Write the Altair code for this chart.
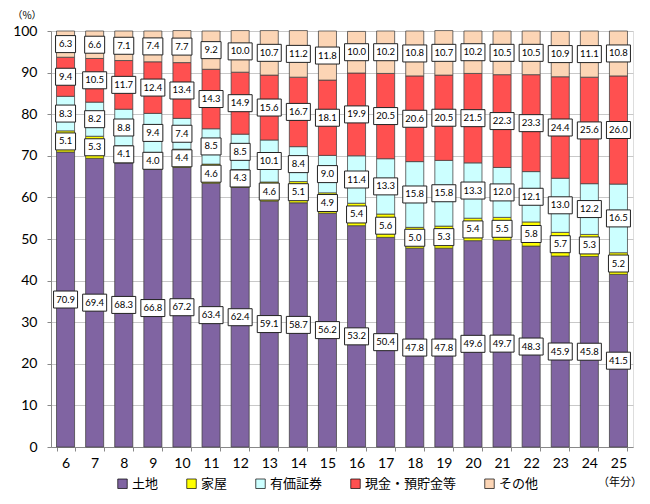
import altair as alt
import pandas as pd

years = ["6", "7", "8", "9", "10", "11", "12", "13", "14", "15",
         "16", "17", "18", "19", "20", "21", "22", "23", "24", "25"]
land = [70.9, 69.4, 68.3, 66.8, 67.2, 63.4, 62.4, 59.1, 58.7, 56.2,
        53.2, 50.4, 47.8, 47.8, 49.6, 49.7, 48.3, 45.9, 45.8, 41.5]
house = [5.1, 5.3, 4.1, 4.0, 4.4, 4.6, 4.3, 4.6, 5.1, 4.9,
         5.4, 5.6, 5.0, 5.3, 5.4, 5.5, 5.8, 5.7, 5.3, 5.2]
securities = [8.3, 8.2, 8.8, 9.4, 7.4, 8.5, 8.5, 10.1, 8.4, 9.0,
              11.4, 13.3, 15.8, 15.8, 13.3, 12.0, 12.1, 13.0, 12.2, 16.5]
cash = [9.4, 10.5, 11.7, 12.4, 13.4, 14.3, 14.9, 15.6, 16.7, 18.1,
        19.9, 20.5, 20.6, 20.5, 21.5, 22.3, 23.3, 24.4, 25.6, 26.0]
other = [6.3, 6.6, 7.1, 7.4, 7.7, 9.2, 10.0, 10.7, 11.2, 11.8,
         10.0, 10.2, 10.8, 10.7, 10.2, 10.5, 10.5, 10.9, 11.1, 10.8]

categories = ["土地", "家屋", "有価証券", "現金・預貯金等", "その他"]
colors = ["#8064A2", "#FFFF00", "#CCFFFF", "#FF5050", "#FCD5B5"]
series = [land, house, securities, cash, other]

rows = []
for ci, (cat, vals) in enumerate(zip(categories, series)):
    for y, v in zip(years, vals):
        rows.append({"year": y, "cat": cat, "order": ci, "value": v,
                     "label": f"{v:.1f}"})
df = pd.DataFrame(rows)

box_short = "M-2,-1.7L2,-1.7L2,1.7L-2,1.7Z"
box_long = "M-2.4,-1.7L2.4,-1.7L2.4,1.7L-2.4,1.7Z"

base = alt.Chart(df).transform_stack(
    stack="value", groupby=["year"], as_=["lo", "hi"],
    sort=[alt.SortField("order", order="ascending")]
).transform_calculate(
    mid="(datum.lo + datum.hi) / 2",
    w="length(datum.label) > 3 ? 'l' : 's'"
)

xenc = alt.X(
    "year:O", sort=years, title=None,
    scale=alt.Scale(paddingInner=0.38, paddingOuter=0.19),
    axis=alt.Axis(labelAngle=0, labelFont="Lato", labelFontSize=14,
                  labelColor="black", tickBand="extent", ticks=True,
                  tickSize=4, tickColor="#888888", domainColor="#888888",
                  labelPadding=5, grid=False)
)

bars = base.mark_bar(stroke="#404040", strokeWidth=0.75).encode(
    x=xenc,
    y=alt.Y("lo:Q", title=None,
            scale=alt.Scale(domain=[0, 100], nice=False),
            axis=alt.Axis(values=list(range(0, 101, 10)), labelFont="Lato",
                          labelFontSize=14, labelColor="black", tickSize=4,
                          tickColor="#888888", domainColor="#888888",
                          gridColor="#C8C8C8", labelPadding=10)),
    y2="hi:Q",
    color=alt.Color("cat:N", sort=categories,
                    scale=alt.Scale(domain=categories, range=colors),
                    legend=alt.Legend(orient="none", legendX=65, legendY=446,
                                      direction="horizontal", columns=5,
                                      title=None, symbolType="square",
                                      symbolSize=90, symbolStrokeColor="black",
                                      symbolStrokeWidth=0.7, symbolOpacity=1,
                                      labelFont="Noto Sans CJK JP",
                                      labelFontSize=13, labelColor="black",
                                      columnPadding=26, labelOffset=3,
                                      padding=0)),
    order=alt.Order("order:Q")
)

boxes = base.mark_point(filled=True, fill="white", stroke="#222222",
                        strokeWidth=1, opacity=1, size=100).encode(
    x=alt.X("year:O", sort=years),
    y=alt.Y("mid:Q"),
    shape=alt.Shape("w:N", scale=alt.Scale(domain=["s", "l"],
                                           range=[box_short, box_long]),
                    legend=None)
)

texts = base.mark_text(font="Lato", fontSize=9.5, color="black").encode(
    x=alt.X("year:O", sort=years),
    y=alt.Y("mid:Q"),
    text="label:N"
)

pct = alt.Chart(pd.DataFrame({"t": ["（%）"]})).mark_text(
    font="Noto Sans CJK JP", fontSize=10, color="black", baseline="top"
).encode(x=alt.value(-24), y=alt.value(-20), text="t:N")

unit = alt.Chart(pd.DataFrame({"t": ["（年分）"]})).mark_text(
    font="Noto Sans CJK JP", fontSize=11, color="black"
).encode(x=alt.value(569), y=alt.value(452), text="t:N")

chart = alt.layer(bars, boxes, texts, pct, unit).properties(
    width=582, height=416,
    padding={"left": 43, "top": 23, "right": 9, "bottom": 49},
    autosize=alt.AutoSizeParams(type="none")
).configure_view(stroke=None).configure(background="white")

chart.save("out.html", embed_options={"renderer": "svg", "actions": False})
